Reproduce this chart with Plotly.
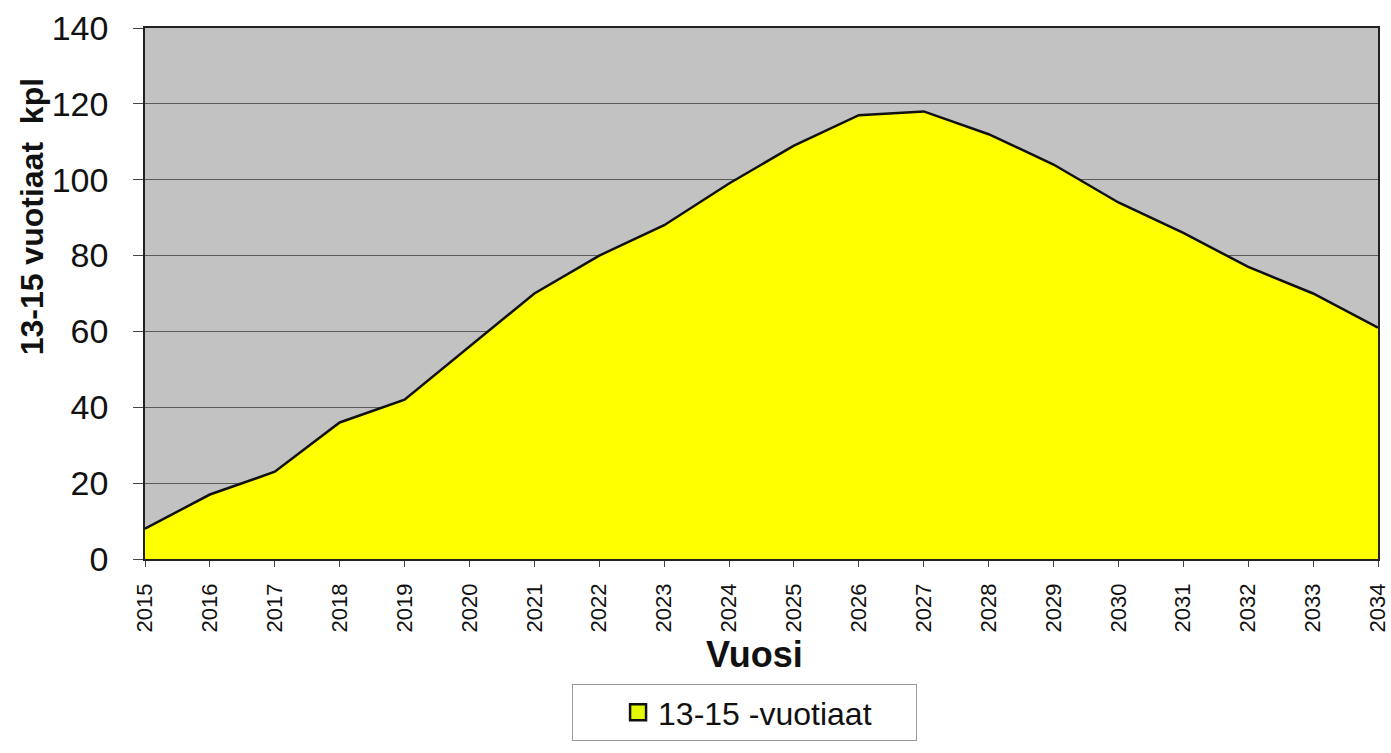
import plotly.graph_objects as go

years = list(range(2015, 2035))
counts = [8, 17, 23, 36, 42, 56, 70, 80, 88, 99, 109, 117, 118, 112, 104, 94, 86, 77, 70, 61]
series_name = "13-15 -vuotiaat"
y_ticks = [0, 20, 40, 60, 80, 100, 120, 140]

W, H = 1391, 753
PLOT_L, PLOT_R, PLOT_T, PLOT_B = 145, 1378, 28, 572
PLOT_W = PLOT_R - PLOT_L
PLOT_H = PLOT_B - PLOT_T

fig = go.Figure()

# area itself, legend handled by a separate marker-only entry
fig.add_trace(
    go.Scatter(
        x=years,
        y=counts,
        mode="lines",
        fill="tozeroy",
        fillcolor="#ffff00",
        line=dict(color="#111111", width=2.5),
        name=series_name,
        showlegend=False,
        hoverinfo="x+y",
    )
)
fig.add_trace(
    go.Scatter(
        x=[None],
        y=[None],
        mode="markers",
        marker=dict(symbol="square", size=16, color="#e4f800", line=dict(color="#111111", width=2.5)),
        name=series_name,
        showlegend=True,
    )
)

fig.update_layout(
    width=W,
    height=H,
    margin=dict(l=PLOT_L, r=W - PLOT_R, t=PLOT_T, b=H - PLOT_B),
    paper_bgcolor="white",
    plot_bgcolor="#c2c2c2",
    font=dict(family="Arial, Liberation Sans, sans-serif", color="#111111"),
    showlegend=True,
    legend=dict(
        orientation="h",
        x=(744 - PLOT_L) / PLOT_W,
        xanchor="center",
        y=(PLOT_B - 700) / PLOT_H,
        yanchor="top",
        bordercolor="#9a9a9a",
        borderwidth=1,
        bgcolor="white",
        font=dict(size=32),
        itemwidth=30,
        entrywidth=252,
        # blank title pushes the entry right, like the padded box in the original
        title=dict(text="\u00a0\u00a0\u00a0\u00a0", side="left", font=dict(size=32)),
    ),
)

# axis titles as annotations, the y title sits above the plot centre in the original
fig.add_annotation(
    text="<b>13-15 vuotiaat  kpl</b>",
    textangle=-90,
    xref="paper", yref="paper",
    x=(32 - PLOT_L) / PLOT_W, y=(PLOT_B - 222) / PLOT_H,
    xanchor="center", yanchor="middle",
    showarrow=False,
    font=dict(size=32, color="#111111"),
)
fig.add_annotation(
    text="<b>Vuosi</b>",
    xref="paper", yref="paper",
    x=(754 - PLOT_L) / PLOT_W, y=(PLOT_B - 670) / PLOT_H,
    xanchor="center", yanchor="middle",
    showarrow=False,
    font=dict(size=36, color="#111111"),
)

fig.update_xaxes(
    range=[years[0], years[-1]],
    tickvals=years,
    ticktext=[str(y) for y in years],
    tickangle=-90,
    tickfont=dict(size=22),
    ticks="outside",
    ticklen=6,
    tickcolor="#444444",
    ticklabelstandoff=8,
    showgrid=False,
    showline=True,
    linecolor="#222222",
    linewidth=1.5,
    mirror=True,
    zeroline=False,
    automargin=False,
)

fig.update_yaxes(
    range=[0, 140],
    tickvals=y_ticks,
    tickfont=dict(size=34),
    ticks="outside",
    ticklen=10,
    tickcolor="#444444",
    ticklabelstandoff=18,
    showgrid=True,
    gridcolor="#5a5a5a",
    gridwidth=1,
    showline=True,
    linecolor="#222222",
    linewidth=1.5,
    mirror=True,
    zeroline=False,
    automargin=False,
)

# drop the default 8px body margin so the figure sits at the window's corner
fig.write_html(
    "out.html",
    config={"displayModeBar": False},
    post_script="document.body.style.margin='0';document.body.style.overflow='hidden';",
)
